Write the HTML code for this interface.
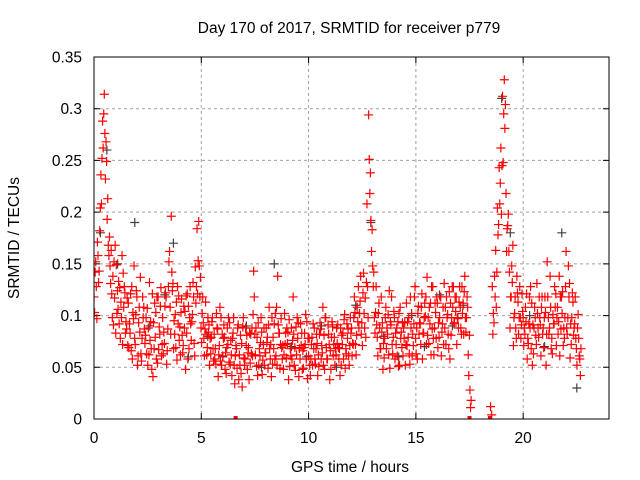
<!DOCTYPE html>
<html><head><meta charset="utf-8"><style>
html,body{margin:0;padding:0;background:#fff}
svg{display:block;font-family:"Liberation Sans",sans-serif}
</style></head><body>
<svg id="chart" width="640" height="480" xmlns="http://www.w3.org/2000/svg">
<rect width="640" height="480" fill="#fff"/>
<text x="349" y="33" font-size="15.5" text-anchor="middle">Day 170 of 2017, SRMTID for receiver p779</text>
<text x="350" y="472" font-size="15.5" text-anchor="middle">GPS time / hours</text>
<text x="19" y="238" font-size="15.5" text-anchor="middle" transform="rotate(-90 19 238)">SRMTID / TECUs</text>
<g id="grid"></g>
<g id="axes"></g>
<clipPath id="pc"><rect x="94" y="57" width="515" height="362"/></clipPath>
<g id="marks" clip-path="url(#pc)"></g>
<rect x="94" y="57" width="515" height="362" fill="none" stroke="#000" stroke-width="1"/>
</svg>
<script>
const xTicks = [0, 5, 10, 15, 20];
const yTicks = [0, 0.05, 0.1, 0.15, 0.2, 0.25, 0.3, 0.35];
const yTickLabels = ["0", "0.05", "0.1", "0.15", "0.2", "0.25", "0.3", "0.35"];
const rowHours = 0.8, colHours = 0.08;
const srmtidA = [
[.118,.152,.171,.143,.236,.288,.314,.268,.213,.176],
[.163,.138,.117,.149,.106,.127,.098,.141,.122,.087],
[.112,.083,.128,.097,.072,.118,.093,.137,.078,.108],
[.081,.107,.062,.094,.121,.068,.103,.054,.089,.127],
[.098,.073,.118,.087,.162,.196,.131,.082,.113,.092],
[.089,.116,.071,.104,.083,.109,.128,.094,.118,.147],
[.184,.191,.137,.102,.078,.113,.069,.091,.063,.098],
[.082,.053,.087,.071,.098,.061,.079,.044,.072,.093],
[.062,.083,.034,.068,.091,.052,.073,.098,.058,.081],
[.069,.054,.088,.143,.062,.079,.052,.074,.043,.088],
[.064,.079,.108,.072,.053,.092,.061,.138,.083,.097],
[.071,.102,.059,.084,.051,.088,.118,.069,.062,.093],
[.058,.083,.049,.072,.094,.061,.042,.079,.068,.053],
[.073,.051,.087,.064,.081,.098,.058,.072,.048,.089],
[.079,.062,.091,.068,.052,.083,.101,.063,.087,.071],
[.088,.072,.103,.081,.128,.114,.093,.141,.117,.208],
[.294,.238,.183,.142,.103,.079,.112,.068,.093,.059],
[.108,.082,.124,.091,.063,.098,.072,.094,.052,.084],
[.061,.093,.112,.079,.053,.102,.071,.128,.088,.109],
[.092,.121,.083,.099,.137,.073,.112,.087,.062,.103],
[.112,.079,.118,.092,.131,.072,.101,.123,.081,.108],
[.093,.118,.097,.128,.082,.112,.138,.098,.062,.028],
[null,null,null,null,null,null,null,null,null,null],
[null,.012,.128,.093,.163,.204,.243,.262,.312,.328],
[.218,.187,.142,.118,.168,.102,.078,.113,.128,.091],
[.098,.082,.121,.073,.088,.112,.063,.098,.131,.079],
[.091,.118,.069,.103,.152,.082,.108,.063,.092,.121],
[.108,.138,.087,.123,.078,.162,.098,.131,.072,.113],
[.092,.068,.101,.058]
];
const srmtidB = [
[.103,.128,.158,.182,.208,.262,.276,.249,.168,.148],
[.121,.091,.168,.102,.133,.078,.158,.108,.083,.117],
[.069,.121,.058,.148,.101,.052,.108,.063,.118,.087],
[.098,.052,.132,.068,.041,.112,.058,.118,.082,.061],
[.063,.109,.053,.128,.108,.142,.068,.101,.057,.119],
[.062,.081,.109,.048,.121,.068,.092,.101,.073,.112],
[.121,.148,.088,.118,.061,.082,.098,.052,.079,.068],
[.058,.102,.041,.108,.052,.078,.048,.069,.098,.053],
[.042,.098,.061,.049,.038,.081,.031,.059,.088,.048],
[.038,.082,.061,.118,.088,.042,.068,.098,.057,.052],
[.088,.049,.068,.041,.079,.058,.108,.091,.049,.069],
[.048,.072,.088,.038,.068,.058,.082,.047,.098,.041],
[.092,.048,.069,.101,.039,.078,.058,.052,.088,.068],
[.042,.082,.058,.108,.048,.069,.091,.038,.079,.061],
[.052,.088,.069,.042,.081,.058,.049,.092,.061,.098],
[.061,.098,.072,.108,.088,.138,.071,.102,.079,.128],
[.251,.192,.148,.098,.128,.061,.088,.118,.048,.078],
[.068,.101,.049,.118,.079,.058,.088,.051,.108,.069],
[.088,.052,.071,.098,.118,.061,.092,.078,.058,.082],
[.072,.058,.098,.118,.081,.108,.062,.128,.088,.078],
[.069,.098,.061,.108,.088,.118,.082,.058,.098,.128],
[.118,.072,.088,.108,.128,.082,.098,.118,.042,.011],
[null,null,null,null,null,null,null,null,null,null],
[null,null,.082,.138,.108,.178,.208,.198,.248,.281],
[.162,.198,.088,.148,.071,.118,.138,.082,.098,.121],
[.071,.108,.058,.092,.128,.052,.088,.081,.102,.118],
[.061,.082,.098,.052,.118,.088,.068,.101,.128,.071],
[.082,.061,.118,.071,.098,.088,.148,.059,.098,.081],
[.118,.052,.078,.042]
];
const srmtidC = [
[.142,.097,.132,.204,.252,.295,.232,.193,.158,.131],
[.098,.152,.083,.124,.092,.113,.072,.128,.094,.071],
[.092,.066,.103,.078,.124,.061,.084,.056,.098,.073],
[.063,.088,.076,.048,.093,.079,.118,.067,.109,.072],
[.084,.122,.066,.152,.082,.124,.095,.069,.128,.076],
[.103,.064,.088,.119,.058,.098,.076,.132,.061,.128],
[.153,.118,.074,.093,.087,.062,.084,.078,.094,.056],
[.068,.088,.062,.056,.082,.091,.064,.088,.055,.076],
[.078,.052,.071,.088,.062,.044,.089,.052,.071,.064],
[.083,.063,.101,.082,.051,.093,.061,.084,.072,.064],
[.074,.091,.058,.098,.068,.102,.052,.083,.072,.058],
[.062,.083,.073,.096,.061,.076,.052,.089,.078,.068],
[.071,.066,.083,.058,.078,.052,.072,.092,.058,.082],
[.062,.093,.071,.052,.098,.058,.082,.066,.094,.072],
[.068,.073,.058,.088,.072,.096,.068,.078,.052,.083],
[.073,.118,.062,.094,.102,.082,.122,.088,.132,.098],
[.218,.162,.128,.083,.091,.102,.068,.084,.073,.098],
[.088,.062,.094,.072,.104,.083,.061,.102,.078,.093],
[.078,.072,.094,.063,.088,.082,.118,.063,.102,.093],
[.108,.083,.112,.072,.098,.092,.128,.078,.112,.118],
[.093,.118,.084,.072,.108,.098,.068,.112,.128,.092],
[.104,.098,.113,.088,.102,.123,.084,.108,.081,.018],
[null,null,null,null,null,null,null,null,null,null],
[null,.004,.102,.118,.142,.188,.228,.245,.295,.304],
[.184,.162,.118,.132,.098,.088,.122,.098,.078,.104],
[.088,.094,.078,.118,.068,.091,.108,.072,.088,.098],
[.108,.088,.118,.082,.098,.138,.078,.092,.108,.098],
[.094,.118,.102,.088,.128,.082,.118,.092,.122,.088],
[.078,.088,.061,.068]
];
const grayTimes = [0.3,0.6,1.1,1.9,2.6,3.3,3.7,4.4,5.3,6.0,7.1,7.8,8.4,9.2,9.9,10.6,11.3,12.2,12.9,13.5,14.2,14.8,15.4,16.1,16.7,17.2,19.0,19.4,20.3,21.0,21.8,22.5];
const grayValues = [.18,.26,.15,.19,.09,.12,.17,.06,.08,.06,.09,.05,.15,.07,.06,.09,.05,.11,.19,.08,.06,.10,.07,.12,.09,.11,.31,.18,.10,.07,.18,.03];
const zeroTimes = [6.6, 17.5, 18.45];

const X0=94, X1=609, Y0=419, Y1=57, XMAX=24, YMAX=0.35;
const sx = t => X0 + (X1-X0)*t/XMAX;
const sy = v => Y0 - (Y0-Y1)*v/YMAX;
const NS="http://www.w3.org/2000/svg";
const grid=document.getElementById('grid'), axes=document.getElementById('axes'), marks=document.getElementById('marks');
function mk(tag, attrs, parent){const e=document.createElementNS(NS,tag);for(const k in attrs)e.setAttribute(k,attrs[k]);parent.appendChild(e);return e;}

xTicks.forEach(t=>{
  const x=sx(t);
  if(t>0){const g=mk('line',{x1:x,x2:x,y1:Y1,y2:Y0,stroke:'#a0a0a0','stroke-dasharray':'3,3'},grid);
  
  }
  const tk=mk('path',{d:`M${x},${Y0}v-6M${x},${Y1}v6`,stroke:'#000'},axes);
  
  
  const lb=mk('text',{x:x,y:443,'font-size':'15.5','text-anchor':'middle'},axes);
  lb.textContent=String(t);
  
  
});
yTicks.forEach((v,i)=>{
  const y=sy(v);
  if(v>0&&v<YMAX){const g=mk('line',{x1:X0,x2:X1,y1:y,y2:y,stroke:'#a0a0a0','stroke-dasharray':'3,3'},grid);
  
  }
  const tk=mk('path',{d:`M${X0},${y}h6M${X1},${y}h-6`,stroke:'#000'},axes);
  
  
  const lb=mk('text',{x:82,y:y+5.5,'font-size':'15.5','text-anchor':'end'},axes);
  lb.textContent=yTickLabels[i];
  
  
});
function cross(t,v,color,name){
  const x=sx(t), y=sy(v);
  const p=mk('path',{d:`M${x-4.5},${y}h9M${x},${y-4.5}v9`,stroke:color,'stroke-width':'1.2',fill:'none'},marks);
  
  
}
grayTimes.forEach((t,i)=>cross(t,grayValues[i],'#404040','gray-point'));
[srmtidA,srmtidB,srmtidC].forEach((series,si)=>{
  series.forEach((row,r)=>row.forEach((v,c)=>{
    if(v===null)return;
    cross(r*rowHours+c*colHours+si*colHours/3,v,'#ff0000','srmtid-point');
  }));
});
zeroTimes.forEach(t=>{
  const x=sx(t);
  const s=mk('rect',{x:x-2,y:Y0-3,width:4,height:7,fill:'#ff0000'},marks);
  
  
});
</script>
</body></html>
